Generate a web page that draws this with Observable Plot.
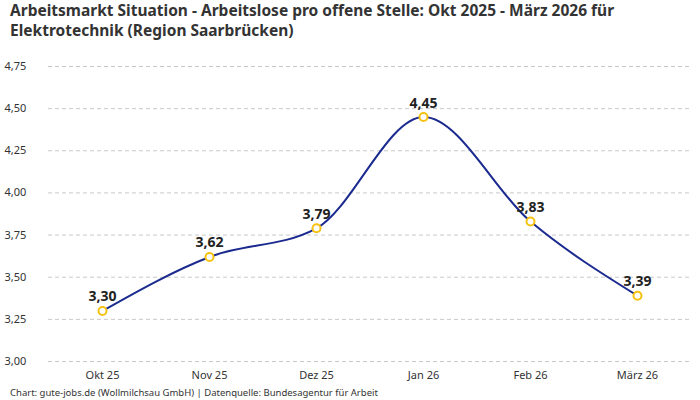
<!DOCTYPE html>
<html><head><meta charset="utf-8">
<script src="https://cdn.jsdelivr.net/npm/d3@7"></script>
<script src="https://cdn.jsdelivr.net/npm/@observablehq/plot@0.6"></script>
<style>
body{margin:0;background:#fff;font-family:"Noto Sans",sans-serif;width:700px;height:400px;overflow:hidden}
#title{position:absolute;left:10px;top:0px;font-size:15.5px;font-weight:700;line-height:20px;color:#333;width:680px}
#chart{position:absolute;left:0;top:44px}
#caption{position:absolute;left:10px;top:386px;font-size:9.5px;color:#333}
</style></head>
<body>
<div id="title">Arbeitsmarkt Situation - Arbeitslose pro offene Stelle: Okt 2025 - März 2026 für<br>Elektrotechnik (Region Saarbrücken)</div>
<div id="chart"></div>
<div id="caption">Chart: gute-jobs.de (Wollmilchsau GmbH) | Datenquelle: Bundesagentur für Arbeit</div>
<script>
const months = ["Okt 25","Nov 25","Dez 25","Jan 26","Feb 26","März 26"];
const values = [3.30, 3.62, 3.79, 4.45, 3.83, 3.39];
const yTicks = [3.00, 3.25, 3.50, 3.75, 4.00, 4.25, 4.50, 4.75];

const data = months.map((m, i) => ({month: m, value: values[i]}));
const fmt = v => v.toFixed(2).replace(".", ",");

const plot = Plot.plot({
  width: 700,
  height: 340,
  marginLeft: 48,
  marginRight: 10,
  marginTop: 22,
  marginBottom: 23,
  style: {fontFamily: '"Noto Sans", sans-serif', fontSize: "11px", color: "#333"},
  x: {type: "point", domain: months, padding: 0.5, label: null},
  y: {domain: [3, 4.75], label: null},
  marks: [
    Plot.gridY(yTicks, {stroke: "#c8c8c8", strokeOpacity: 1, strokeDasharray: "4,3"}),
    Plot.axisY(yTicks, {tickSize: 0, textAnchor: "start", dx: -35, tickFormat: fmt, label: null, fill: "#333"}),
    Plot.axisX({tickSize: 0, tickPadding: 10, label: null, fill: "#333"}),
    Plot.line(data, {x: "month", y: "value", curve: "monotone-x", stroke: "#1b2a8f", strokeWidth: 2}),
    Plot.dot(data, {x: "month", y: "value", r: 4, fill: "white", stroke: "#f5c211", strokeWidth: 2}),
    Plot.text(data, {x: "month", y: "value", text: d => fmt(d.value), dy: -14, fontSize: 14, fontWeight: "bold", fill: "#222"})
  ]
});
document.getElementById("chart").appendChild(plot);
</script>
</body></html>
